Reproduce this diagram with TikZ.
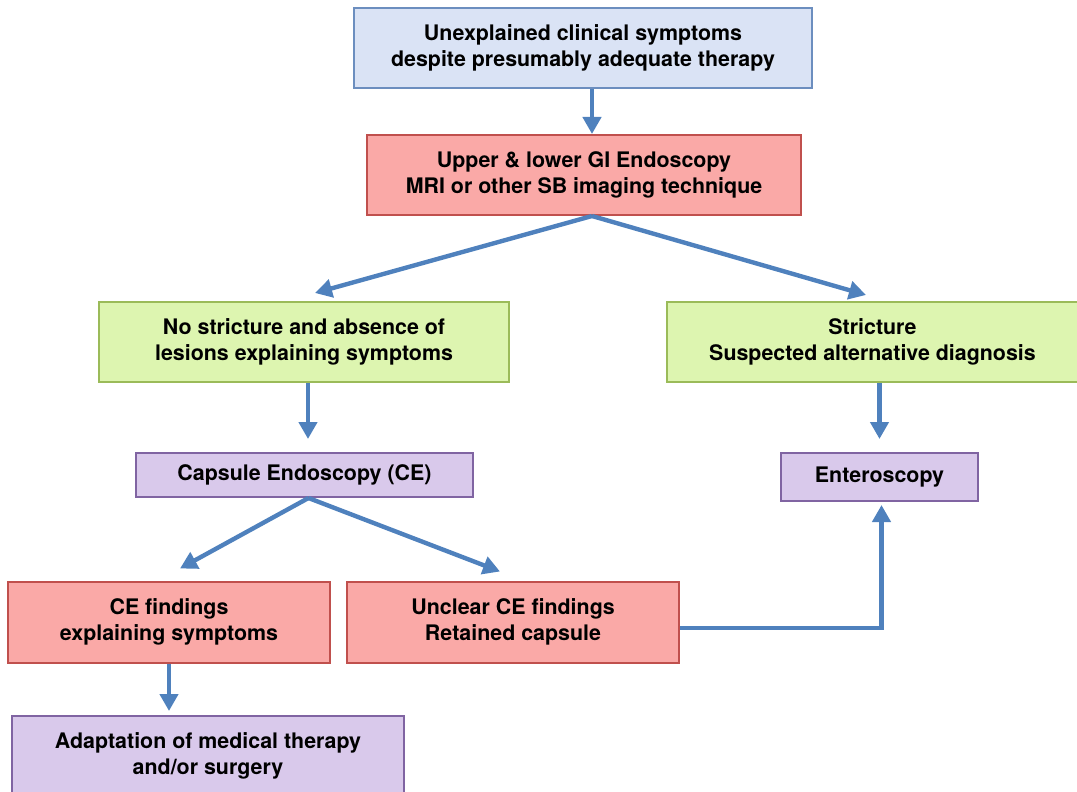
\documentclass[tikz,border=0pt]{standalone}
\usepackage{fontspec}
\setmainfont{TeX Gyre Heros}
\usepackage{tikz}
\usetikzlibrary{arrows.meta}
\definecolor{arrblue}{HTML}{4F81BD}
\definecolor{bluefill}{HTML}{DAE3F5}
\definecolor{blueline}{HTML}{6C8EBF}
\definecolor{redfill}{HTML}{FAA9A7}
\definecolor{redline}{HTML}{C0504D}
\definecolor{greenfill}{HTML}{DDF5B0}
\definecolor{greenline}{HTML}{9BBB59}
\definecolor{purplefill}{HTML}{D9C9EB}
\definecolor{purpleline}{HTML}{8064A2}

\begin{document}
\begin{tikzpicture}[x=0.5pt,y=-0.5pt,
    box/.style={draw,line width=1pt,align=center,inner sep=0pt,
        font=\fontsize{10.7}{13}\selectfont\bfseries},
    bluebox/.style={box,fill=bluefill,draw=blueline},
    redbox/.style={box,fill=redfill,draw=redline},
    greenbox/.style={box,fill=greenfill,draw=greenline},
    purplebox/.style={box,fill=purplefill,draw=purpleline},
    arr/.style={draw=arrblue,line width=2.2pt,-{Triangle[width=9pt,length=8.5pt]}}]
    \useasboundingbox (0,0) rectangle (1077,792);
    % boxes
    \node[bluebox,minimum width=229pt,minimum height=40pt] (sympt) at (583,48)
        {Unexplained clinical symptoms\\despite presumably adequate therapy};
    \node[redbox,minimum width=217pt,minimum height=40pt] (endo) at (584,175)
        {Upper \& lower GI Endoscopy\\MRI or other SB imaging technique};
    \node[greenbox,minimum width=205pt,minimum height=40pt] (nostr) at (304,342)
        {No stricture and absence of\\lesions explaining symptoms};
    \node[greenbox,minimum width=206pt,minimum height=40pt] (str) at (872.5,342)
        {Stricture\\Suspected alternative diagnosis};
    \node[purplebox,minimum width=168.5pt,minimum height=22pt] (caps) at (304.5,475)
        {Capsule Endoscopy (CE)};
    \node[purplebox,minimum width=98.5pt,minimum height=24pt] (entero) at (879.5,477)
        {Enteroscopy};
    \node[redbox,minimum width=161pt,minimum height=40.5pt] (cefind) at (169,622)
        {CE findings\\explaining symptoms};
    \node[redbox,minimum width=166pt,minimum height=40.5pt] (unclear) at (513,622)
        {Unclear CE findings\\Retained capsule};
    \node[purplebox,minimum width=196pt,minimum height=40pt] (adapt) at (208,756)
        {Adaptation of medical therapy\\and/or surgery};
    % arrows
    \draw[arr] ([xshift=4.5pt]sympt.south) -- ([xshift=4.5pt]sympt.south |- endo.north);
    \draw[arr] ([xshift=4pt]endo.south) -- ([xshift=5.5pt,yshift=4pt]nostr.north);
    \draw[arr] ([xshift=4pt]endo.south) -- ([xshift=-3.25pt,yshift=3pt]str.north);
    \draw[arr] ([xshift=2pt]nostr.south) -- ([xshift=2pt,yshift=6.5pt]nostr.south |- caps.north);
    \draw[arr] (str.south -| entero.north) -- ([yshift=6.5pt]entero.north);
    \draw[arr] ([xshift=2pt]caps.south) -- ([xshift=5.5pt,yshift=6pt]cefind.north);
    \draw[arr] ([xshift=2pt]caps.south) -- ([xshift=-6.5pt,yshift=4.5pt]unclear.north);
    \draw[arr] (cefind.south) -- ([yshift=2pt]cefind.south |- adapt.north);
    \draw[arr] ([yshift=-3pt]unclear.east) -| ([xshift=1pt,yshift=-1.5pt]entero.south);
\end{tikzpicture}
\end{document}
